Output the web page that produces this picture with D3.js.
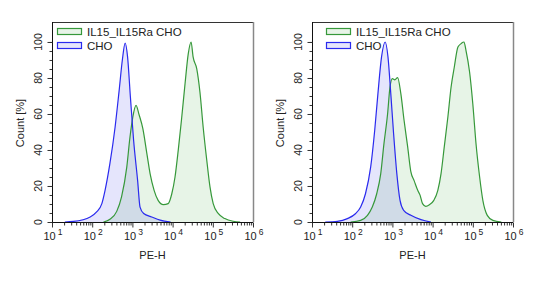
<!DOCTYPE html>
<html>
<head>
<meta charset="utf-8">
<script src="https://cdn.jsdelivr.net/npm/d3@7"></script>
<style>
  body { margin: 0; background: #fff; }
  svg text { font-family: "Liberation Sans", Arial, sans-serif; fill: #222; }
</style>
</head>
<body>
<div id="chart"></div>
<script>
// ---------------------------- data (x as log10 of PE-H) ----------------------------
const seriesNames = ["IL15_IL15Ra CHO", "CHO"];
const yTicks = [0, 20, 40, 60, 80, 100];
const xDecades = [1, 2, 3, 4, 5, 6];

const leftChoLog   = [1.32, 1.53, 1.95, 2.11, 2.24, 2.32, 2.44, 2.57, 2.67, 2.75, 2.82, 2.88, 2.95, 3.03, 3.13, 3.19, 3.28, 3.48, 3.69, 3.95];
const leftChoCount = [0, 0.3, 2.8, 5.6, 10.2, 17.6, 32.4, 52.8, 73, 90, 99.4, 91.7, 69.5, 45.4, 23, 8.3, 4.7, 2.8, 1, 0];

const leftIlLog   = [2.28, 2.44, 2.61, 2.73, 2.86, 2.94, 3.01, 3.09, 3.17, 3.26, 3.36, 3.44, 3.54, 3.64, 3.77, 3.89, 3.98, 4.06, 4.14, 4.22, 4.31, 4.39, 4.46, 4.51, 4.6, 4.68, 4.76, 4.85, 4.93, 5.01, 5.14, 5.3, 5.51, 5.68];
const leftIlCount = [0, 1.5, 5.9, 14, 30.5, 47.2, 58.3, 64.8, 59.3, 51.9, 38, 26.9, 17.6, 12, 9.6, 10.2, 15.7, 25, 39.8, 56.5, 76.9, 93.5, 100, 91.7, 85.2, 72.2, 52.8, 34.3, 19.5, 10.2, 4.6, 1.9, 0.4, 0];

const rightChoLog   = [1.33, 1.63, 1.88, 2.08, 2.21, 2.33, 2.46, 2.56, 2.64, 2.73, 2.82, 2.89, 2.96, 3.03, 3.11, 3.19, 3.28, 3.46, 3.71, 3.96];
const rightChoCount = [0, 0.4, 1.9, 4.6, 8.3, 15.7, 30.6, 51, 71.3, 91.7, 100, 91.7, 71.3, 49, 26.9, 12, 6.5, 3.7, 1.3, 0];

const rightIlLog   = [1.96, 2.21, 2.38, 2.5, 2.61, 2.71, 2.79, 2.88, 2.94, 3.0, 3.06, 3.13, 3.21, 3.29, 3.38, 3.46, 3.54, 3.63, 3.69, 3.75, 3.83, 3.92, 4.03, 4.13, 4.21, 4.29, 4.38, 4.46, 4.54, 4.63, 4.71, 4.78, 4.83, 4.92, 5.0, 5.08, 5.17, 5.25, 5.36, 5.5, 5.71];
const rightIlCount = [0, 0.9, 3.7, 8.3, 15.7, 26.9, 43.5, 60, 75, 79.6, 79, 80.2, 71.3, 56.5, 41.7, 27.8, 23, 17.6, 14.8, 10.2, 8.7, 9.6, 12, 17.6, 26.9, 41.7, 58.3, 75, 86.1, 97.2, 99.1, 100, 95.4, 83.3, 65.7, 43.5, 25, 12, 3.7, 0.9, 0];

const GREEN = "#36983a";
const BLUE = "#2a2aee";

const WIDTH = 545, HEIGHT = 285;
const svg = d3.select("#chart").append("svg")
    .attr("width", WIDTH)
    .attr("height", HEIGHT);

const zip = (xs, ys) => xs.map((x, i) => ({x: Math.pow(10, x), y: ys[i]}));

function drawPanel(left, id, il, cho, legendX) {
    const right = left + 201, top = 22, bottom = 222;
    const x = d3.scaleLog().domain([10, 1e6]).range([left, right]);
    const y = d3.scaleLinear().domain([0, 111.1]).range([bottom, top]);

    const g = svg.append("g");

    g.append("clipPath").attr("id", id)
        .append("rect")
        .attr("x", left).attr("y", top)
        .attr("width", right - left).attr("height", bottom - top);

    const area = d3.area().x(d => x(d.x)).y0(bottom).y1(d => y(d.y)).curve(d3.curveMonotoneX);
    const line = d3.line().x(d => x(d.x)).y(d => y(d.y)).curve(d3.curveMonotoneX);

    const plot = g.append("g").attr("clip-path", `url(#${id})`);
    const series = [
        {data: il, stroke: GREEN, fill: "rgba(60,165,60,0.12)"},
        {data: cho, stroke: BLUE, fill: "rgba(70,70,235,0.14)"}
    ];
    series.forEach(s => {
        plot.append("path").attr("d", area(s.data)).attr("fill", s.fill);
    });
    series.forEach(s => {
        plot.append("path").attr("d", line(s.data))
            .attr("fill", "none").attr("stroke", s.stroke).attr("stroke-width", 1.2);
    });

    // frame
    g.append("line").attr("x1", left).attr("x2", right).attr("y1", top + 0.5).attr("y2", top + 0.5)
        .attr("stroke", "#333");
    g.append("line").attr("x1", right + 0.5).attr("x2", right + 0.5).attr("y1", top).attr("y2", bottom)
        .attr("stroke", "#888").attr("stroke-width", 1.5);

    // y axis
    const yMinor = d3.range(0, 101, 5);
    const yAxisMinor = d3.axisLeft(y).tickValues(yMinor).tickSize(3).tickFormat("");
    g.append("g").attr("transform", `translate(${left + 0.5},0)`).call(yAxisMinor)
        .call(a => a.select(".domain").remove());
    const yAxis = d3.axisLeft(y).tickValues(yTicks).tickSize(5).tickFormat("");
    g.append("g").attr("transform", `translate(${left + 0.5},0)`).call(yAxis)
        .call(a => a.select(".domain").attr("d", `M0,${top}V${bottom}`));
    g.selectAll(".tick line").attr("stroke", "#333");
    g.selectAll(".domain").attr("stroke", "#111");

    yTicks.forEach(t => {
        g.append("text")
            .attr("transform", `translate(${left - 10},${y(t)}) rotate(-90)`)
            .attr("text-anchor", "middle")
            .attr("font-size", 10.5)
            .text(t);
    });

    // x axis
    const xMinor = [];
    for (let d = 1; d < 6; d++) for (let m = 2; m < 10; m++) xMinor.push(m * Math.pow(10, d));
    const xAxisMinor = d3.axisBottom(x).tickValues(xMinor).tickSize(3).tickFormat("");
    const xAxis = d3.axisBottom(x).tickValues(xDecades.map(e => Math.pow(10, e))).tickSize(5).tickFormat("");
    g.append("g").attr("transform", `translate(0,${bottom + 0.5})`).call(xAxisMinor)
        .call(a => a.select(".domain").remove())
        .selectAll(".tick line").attr("stroke", "#333");
    g.append("g").attr("transform", `translate(0,${bottom + 0.5})`).call(xAxis)
        .call(a => a.select(".domain").attr("d", `M${left},0H${right}`).attr("stroke", "#111"))
        .selectAll(".tick line").attr("stroke", "#333");

    xDecades.forEach(e => {
        const t = g.append("text")
            .attr("x", x(Math.pow(10, e)) + 1)
            .attr("y", bottom + 18)
            .attr("text-anchor", "middle")
            .attr("font-size", 11);
        t.append("tspan").text("10");
        t.append("tspan").attr("dy", -5).attr("dx", 2).attr("font-size", 8.5).text(e);
    });

    // axis titles
    g.append("text")
        .attr("transform", `translate(${left - 28},${(top + bottom) / 2 + 1}) rotate(-90)`)
        .attr("text-anchor", "middle")
        .attr("font-size", 11)
        .text("Count [%]");
    g.append("text")
        .attr("x", (left + right) / 2)
        .attr("y", 259)
        .attr("text-anchor", "middle")
        .attr("font-size", 11)
        .text("PE-H");

    // legend
    const legend = [
        {name: seriesNames[0], stroke: GREEN, fill: "#e8f4e8", y: 28},
        {name: seriesNames[1], stroke: BLUE, fill: "#e6e6fb", y: 42}
    ];
    legend.forEach(l => {
        g.append("rect")
            .attr("x", legendX + 0.5).attr("y", l.y + 0.5)
            .attr("width", 24).attr("height", 6)
            .attr("fill", l.fill).attr("stroke", l.stroke).attr("stroke-width", 1.2);
        g.append("text")
            .attr("x", legendX + 30).attr("y", l.y + 7.5)
            .attr("font-size", 11.5)
            .text(l.name);
    });
}

drawPanel(52, "clipLeft", zip(leftIlLog, leftIlCount), zip(leftChoLog, leftChoCount), 57);
drawPanel(312, "clipRight", zip(rightIlLog, rightIlCount), zip(rightChoLog, rightChoCount), 326);
</script>
</body>
</html>
